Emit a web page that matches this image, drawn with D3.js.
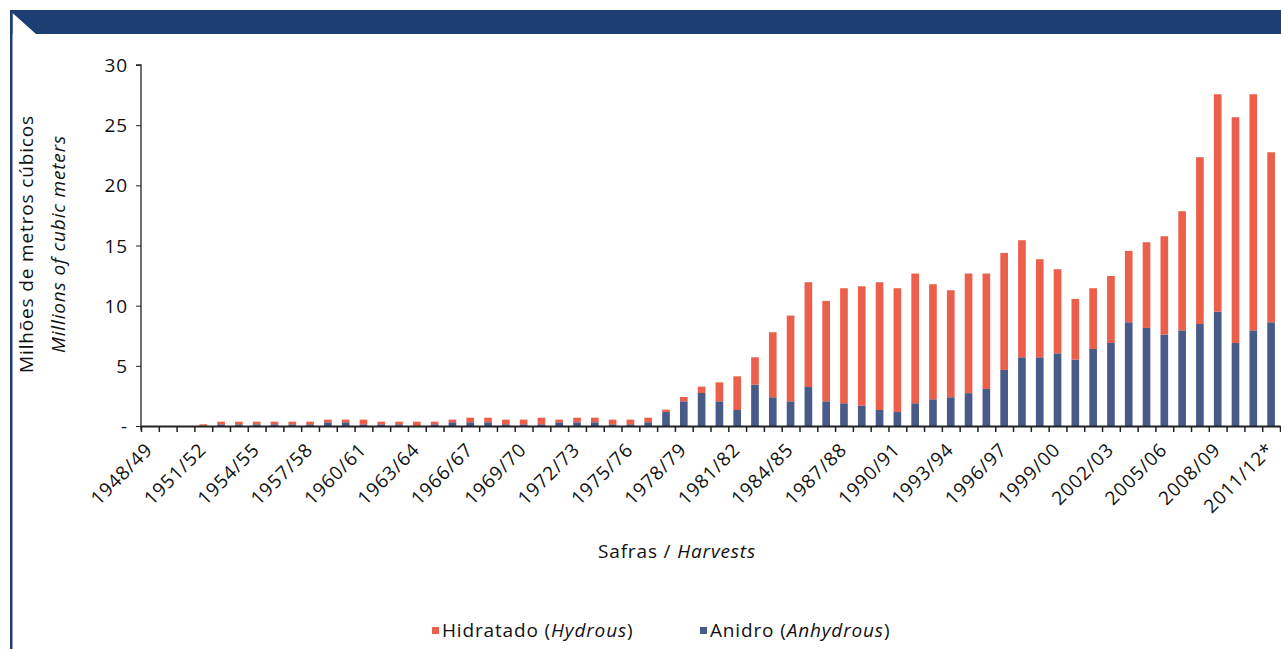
<!DOCTYPE html>
<html>
<head>
<meta charset="utf-8">
<script src="https://cdn.jsdelivr.net/npm/d3@7"></script>
<style>
  html, body { margin: 0; padding: 0; background: #fff; }
  svg { display: block; }
  text { font-family: "Open Sans", "Noto Sans", sans-serif; fill: #111; letter-spacing: 0.85px; }
</style>
</head>
<body>
<svg id="chart" width="1281" height="649"></svg>
<script>
// ---- Data ----
const harvests = [
  "1948/49","1949/50","1950/51","1951/52","1952/53","1953/54","1954/55","1955/56",
  "1956/57","1957/58","1958/59","1959/60","1960/61","1961/62","1962/63","1963/64",
  "1964/65","1965/66","1966/67","1967/68","1968/69","1969/70","1970/71","1971/72",
  "1972/73","1973/74","1974/75","1975/76","1976/77","1977/78","1978/79","1979/80",
  "1980/81","1981/82","1982/83","1983/84","1984/85","1985/86","1986/87","1987/88",
  "1988/89","1989/90","1990/91","1991/92","1992/93","1993/94","1994/95","1995/96",
  "1996/97","1997/98","1998/99","1999/00","2000/01","2001/02","2002/03","2003/04",
  "2004/05","2005/06","2006/07","2007/08","2008/09","2009/10","2010/11","2011/12*"
];
const anidro = [
  0, 0, 0, 0.01, 0.14, 0.14, 0.14, 0.14,
  0.14, 0.14, 0.31, 0.31, 0.14, 0.14, 0.14, 0.0,
  0.14, 0.31, 0.31, 0.31, 0.14, 0.14, 0.14, 0.31,
  0.31, 0.31, 0.14, 0.14, 0.31, 1.17, 2.05, 2.74,
  2.05, 1.33, 3.44, 2.39, 2.05, 3.24, 2.05, 1.89,
  1.70, 1.33, 1.16, 1.89, 2.22, 2.39, 2.73, 3.08,
  4.66, 5.71, 5.71, 6.04, 5.52, 6.40, 6.90, 8.62,
  8.15, 7.60, 7.95, 8.48, 9.51, 6.90, 7.95, 8.62
];
const hidratado = [
  0, 0, 0, 0.13, 0.22, 0.22, 0.22, 0.22,
  0.22, 0.22, 0.22, 0.22, 0.39, 0.22, 0.22, 0.36,
  0.22, 0.22, 0.38, 0.38, 0.39, 0.39, 0.55, 0.22,
  0.38, 0.38, 0.39, 0.39, 0.38, 0.19, 0.36, 0.53,
  1.58, 2.80, 2.27, 5.40, 7.13, 8.71, 8.34, 9.56,
  9.91, 10.62, 10.29, 10.78, 9.56, 8.89, 9.94, 9.59,
  9.72, 9.73, 8.15, 6.99, 5.04, 5.05, 5.57, 5.93,
  7.12, 8.17, 9.90, 13.86, 18.06, 18.76, 19.62, 14.13
];
const yTicks = [0, 5, 10, 15, 20, 25, 30];
const seriesNames = ["anidro", "hidratado"];
const legendLabels = [
  { key: "hidratado", pt: "Hidratado (", en: "Hydrous", end: ")" },
  { key: "anidro", pt: "Anidro (", en: "Anhydrous", end: ")" }
];
const colors = { anidro: "#485a88", hidratado: "#ec5f4b" };

// ---- Layout ----
const svg = d3.select("#chart");
const plotL = 141, plotR = 1280, plotT = 65, plotB = 426;
const fs = "19px";

// Frame / header
svg.append("rect").attr("x", 10).attr("y", 10).attr("width", 1271).attr("height", 24).attr("fill", "#1d3e70");
svg.append("polygon").attr("points", "12.5,13 36,34 12.5,34").attr("fill", "#fff");
svg.append("rect").attr("x", 10).attr("y", 10).attr("width", 2.5).attr("height", 639).attr("fill", "#1d3e70");

const table = harvests.map((h, i) => ({ harvest: h, anidro: anidro[i], hidratado: hidratado[i] }));
const stacked = d3.stack().keys(seriesNames)(table);

const xBar = d3.scaleBand().domain(harvests).range([plotL, plotR]).paddingInner(0.57).paddingOuter(0.285);
const xLin = d3.scaleLinear().domain([0, harvests.length]).range([plotL, plotR]);
const y = d3.scaleLinear().domain([0, 30]).range([plotB, plotT]);

// Bars
svg.append("g").selectAll("g").data(stacked).join("g")
  .attr("fill", d => colors[d.key])
  .selectAll("rect").data(d => d).join("rect")
  .attr("x", d => xBar(d.data.harvest))
  .attr("width", xBar.bandwidth())
  .attr("y", d => y(d[1]))
  .attr("height", d => Math.max(0, y(d[0]) - y(d[1])));

// Y axis
const yAxis = svg.append("g").attr("transform", `translate(${plotL},0)`)
  .call(d3.axisLeft(y).tickValues(yTicks).tickFormat(d => d === 0 ? "-" : d).tickSize(5).tickSizeOuter(5));
yAxis.select(".domain").attr("stroke", "#222").attr("stroke-width", 1.3)
  .attr("d", `M-5,${plotT}H0V${plotB + 4}`);
yAxis.selectAll(".tick line").attr("stroke", "#222");
yAxis.selectAll(".tick text").style("font-size", fs).style("font-family", "'Open Sans'").attr("x", -13).attr("dy", "0.35em");

// X axis ticks at boundaries
const xAxis = svg.append("g").attr("transform", `translate(0,${plotB})`)
  .call(d3.axisBottom(xLin).tickValues(d3.range(harvests.length + 1)).tickFormat("").tickSize(6).tickSizeOuter(0));
xAxis.select(".domain").attr("stroke", "#222").attr("stroke-width", 2);
xAxis.selectAll(".tick line").attr("stroke", "#222").attr("stroke-width", 1.5);

// X labels (every third)
const labelled = harvests.filter((h, i) => i % 3 === 0);
const xLab = svg.append("g").attr("transform", `translate(0,${plotB})`)
  .call(d3.axisBottom(xBar).tickValues(labelled).tickSize(0));
xLab.select(".domain").remove();
xLab.selectAll(".tick text")
  .style("font-size", fs).style("font-family", "'Open Sans'")
  .attr("text-anchor", "end")
  .attr("x", 0).attr("y", 0).attr("dy", 0)
  .attr("transform", "translate(4,25) rotate(-45)");

// Axis titles
svg.append("text").attr("transform", "translate(33,244) rotate(-90)")
  .attr("text-anchor", "middle").style("font-size", fs).text("Milhões de metros cúbicos");
svg.append("text").attr("transform", "translate(65,244) rotate(-90)")
  .attr("text-anchor", "middle").style("font-size", fs).style("font-style", "italic").text("Millions of cubic meters");

const xt = svg.append("text").attr("x", 677).attr("y", 558).attr("text-anchor", "middle").style("font-size", fs);
xt.append("tspan").text("Safras / ");
xt.append("tspan").style("font-style", "italic").text("Harvests");

// Legend
const legX = [432, 700];
legendLabels.forEach((l, i) => {
  const g = svg.append("g").attr("transform", `translate(${legX[i]},0)`);
  g.append("rect").attr("x", 0).attr("y", 627).attr("width", 7).attr("height", 7).attr("fill", colors[l.key]);
  const t = g.append("text").attr("x", 10).attr("y", 637).style("font-size", fs);
  t.append("tspan").text(l.pt);
  t.append("tspan").style("font-style", "italic").text(l.en);
  t.append("tspan").text(l.end);
});
</script>
</body>
</html>
